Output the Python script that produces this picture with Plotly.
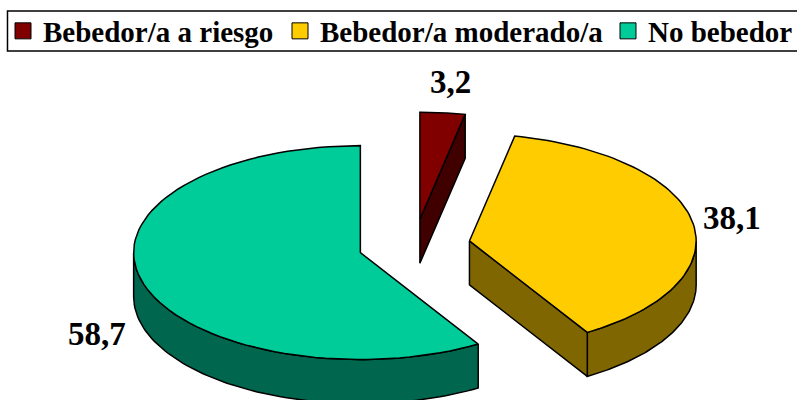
import numpy as np
import plotly.graph_objects as go

categories = ["Bebedor/a a riesgo", "Bebedor/a moderado/a", "No bebedor"]
values = [3.2, 38.1, 58.7]
top_colors = ["#800000", "#FFCC00", "#00CC99"]
side_colors = ["#400000", "#806600", "#00664D"]

CX, CY = 414.8, 245.5   # pie centre, px
RX, RY = 227.0, 107.0   # ellipse radii, px
EXPLODE = 0.247         # fraction of radius
DEPTH = 44.0            # extrusion, px
LABEL_POS = [(451, 82), (733, 218), (97, 334)]
LEGEND_X = [3, 280, 609]   # left edge of each legend entry, px
FONT = "Liberation Serif"


def arc(cx, cy, a0, a1, dy=0.0, n=80):
    t = np.radians(np.linspace(a0, a1, n))
    return cx + RX * np.sin(t), cy - RY * np.cos(t) + dy


def poly(x, y, fill):
    return go.Scatter(x=np.r_[x, x[0]], y=np.r_[y, y[0]], mode="lines", fill="toself",
                      fillcolor=fill, line=dict(color="black", width=1.5),
                      showlegend=False, hoverinfo="skip")


fig = go.Figure()
total = sum(values)
start = 0.0
for name, v, top, side in zip(categories, values, top_colors, side_colors):
    end = start + 360 * v / total
    mid = np.radians((start + end) / 2)
    cx = CX + EXPLODE * RX * np.sin(mid)
    cy = CY - EXPLODE * RY * np.cos(mid)
    # outer wall (visible for the front half of the ellipse)
    a0, a1 = max(start, 90), min(end, 270)
    if a1 > a0:
        x, y = arc(cx, cy, a0, a1)
        xb, yb = arc(cx, cy, a0, a1, DEPTH)
        fig.add_trace(poly(np.r_[x, xb[::-1]], np.r_[y, yb[::-1]], side))
    # cut wall at the end radius, when it faces the viewer
    if np.sin(np.radians(end)) > 1e-6:
        ex, ey = arc(cx, cy, end, end, n=1)
        fig.add_trace(poly(np.r_[cx, ex, ex, cx], np.r_[cy, ey, ey + DEPTH, cy + DEPTH], side))
    # top face
    x, y = arc(cx, cy, start, end)
    fig.add_trace(poly(np.r_[cx, x], np.r_[cy, y], top))
    start = end

legend_style = dict(orientation="h", y=1 - 31 / 400, xanchor="left", yanchor="middle",
                    font=dict(family=FONT, size=29, color="black", weight="bold"),
                    bgcolor="rgba(0,0,0,0)", itemsizing="trace")
legends = {}
for i, (name, top, lx) in enumerate(zip(categories, top_colors, LEGEND_X)):
    key = "legend" if i == 0 else f"legend{i + 1}"
    legends[key] = dict(legend_style, x=lx / 798)
    fig.add_trace(go.Scatter(x=[None], y=[None], mode="markers", name=name, legend=key,
                             showlegend=True,
                             marker=dict(symbol="square", size=17, color=top,
                                         line=dict(color="black", width=1))))

for v, (lx, ly) in zip(values, LABEL_POS):
    fig.add_annotation(x=lx, y=ly, text=f"{v:.1f}".replace(".", ","), showarrow=False,
                       font=dict(family=FONT, size=33, color="black", weight="bold"))

fig.add_shape(type="rect", xref="x", yref="y", x0=7.5, x1=810, y0=11, y1=51,
              line=dict(color="black", width=1.5))

fig.update_layout(
    width=798, height=400, margin=dict(l=0, r=0, t=0, b=0),
    paper_bgcolor="white", plot_bgcolor="white",
    xaxis=dict(range=[0, 798], visible=False, fixedrange=True),
    yaxis=dict(range=[400, 0], visible=False, fixedrange=True),
    **legends,
)
fig.write_html("out.html", config=dict(displayModeBar=False),
               post_script="document.body.style.margin='0';")
